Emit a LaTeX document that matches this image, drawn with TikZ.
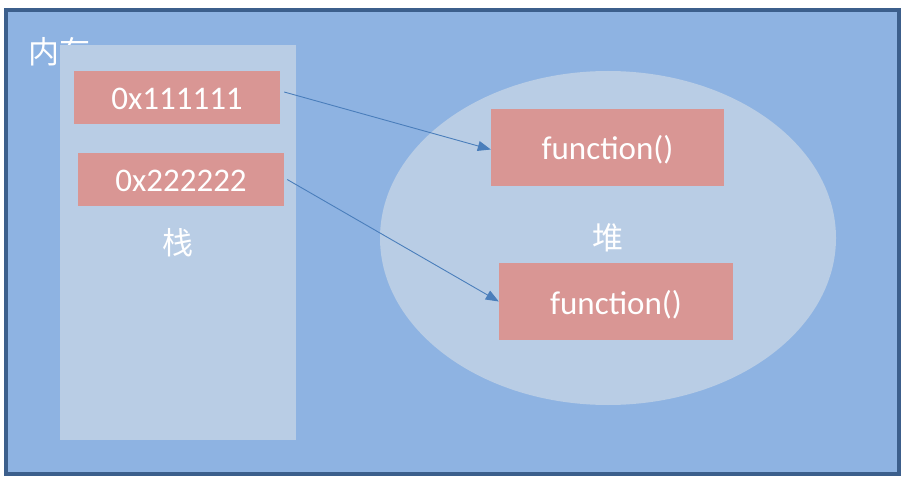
\documentclass[tikz,border=0pt]{standalone}
\usepackage{fontspec}
\setmainfont{Carlito}
\newfontfamily\cjk{Noto Sans CJK SC}
\usetikzlibrary{arrows.meta}
\definecolor{frameblue}{HTML}{3C5F8C}
\definecolor{memfill}{HTML}{8EB3E2}
\definecolor{paleblue}{HTML}{B9CDE5}
\definecolor{boxred}{HTML}{D99694}
\definecolor{arrowblue}{HTML}{4A7EBB}
\tikzset{
  membox/.style={fill=boxred, draw=none, text=white, font=\fontsize{33}{34}\selectfont, text height=25pt, text depth=0pt},
  cjklabel/.style={text=white, font=\cjk\fontsize{31}{33}\selectfont},
  ptr/.style={draw=arrowblue, line width=0.9pt, -{Triangle[length=13pt,width=10pt]}}
}
\begin{document}
\begin{tikzpicture}[x=1pt,y=-1pt]
\useasboundingbox (0,0) rectangle (909,486);
\fill[white] (0,0) rectangle (909,486);
\draw[fill=memfill, draw=frameblue, line width=3.5pt] (6,10) rectangle (899,474);
\node[cjklabel, anchor=west, inner sep=0pt] (mem) at (28,52) {内存};
\fill[paleblue] (60,45) rectangle (296,440);
\node[cjklabel] (stack) at (178,243) {栈};
\fill[paleblue] (608,238) ellipse [x radius=228, y radius=167];
\node[cjklabel] (heap) at (608,238) {堆};
\node[membox, minimum width=206pt, minimum height=53pt] (a1) at (177,97.5) {0x111111};
\node[membox, minimum width=206pt, minimum height=53pt] (a2) at (181,179.5) {0x222222};
\node[membox, minimum width=233pt, minimum height=77pt] (f1) at (607.5,147.5) {function()};
\node[membox, minimum width=234pt, minimum height=77pt] (f2) at (616,301.5) {function()};
\draw[ptr] ([xshift=4pt,yshift=5.5pt]a1.east) -- ([yshift=-2pt]f1.west);
\draw[ptr] ([xshift=3pt,yshift=0pt]a2.east) -- (f2.west);
\end{tikzpicture}
\end{document}
